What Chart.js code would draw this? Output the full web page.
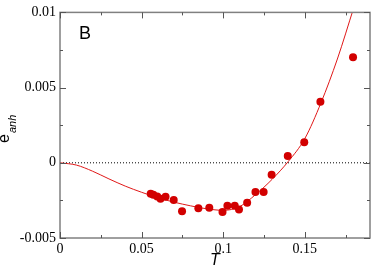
<!DOCTYPE html>
<html lang="en">
<head>
  <meta charset="UTF-8">
  <title>e_anh vs T</title>
  <script src="https://cdn.jsdelivr.net/npm/chart.js"></script>
  <style>
    body { margin:0; background:#fff; }
    .wrap { position:relative; width:374px; height:270px; }
  </style>
</head>
<body>
  <div class="wrap"><canvas id="chart" width="374" height="270"></canvas></div>
  <script>
    // simulation points
    const pointT = [0.0556, 0.0572, 0.0596, 0.0616, 0.0647, 0.0697, 0.0748, 0.0848, 0.0915, 0.0996,
                    0.1026, 0.1071, 0.1097, 0.1147, 0.1198, 0.1248, 0.1297, 0.1396, 0.1497, 0.1596, 0.1796];
    const pointE = [-0.00206, -0.00213, -0.00224, -0.00239, -0.00226, -0.00248, -0.00322, -0.00303, -0.00299, -0.00327,
                    -0.00286, -0.00286, -0.00311, -0.00265, -0.00194, -0.00194, -0.00080, 0.00045, 0.00137, 0.00406, 0.00701];
    // fitted curve
    const curveT = [0, 0.01, 0.02, 0.03, 0.04, 0.05, 0.06, 0.07, 0.08, 0.09, 0.10, 0.11, 0.12, 0.13, 0.14, 0.15, 0.16, 0.17, 0.18];
    const curveE = [0, -0.00015, -0.00056, -0.00107, -0.00155, -0.00196, -0.00232, -0.00262, -0.00286, -0.00306, -0.00316,
                    -0.00292, -0.00210, -0.00110, 0.00010, 0.00160, 0.00400, 0.00690, 0.01030];
    const zeroT = [0, 0.19];
    const zeroE = [0, 0];

    const xTicks = [0, 0.05, 0.1, 0.15];
    const xMinor = [0.025, 0.075, 0.125, 0.175];
    const yTicks = [-0.005, 0, 0.005, 0.01];
    const yMinor = [-0.0025, 0.0025, 0.0075];

    const RED = '#d20000';
    const zip = (xs, ys) => xs.map((x, i) => ({x, y: ys[i]}));

    // frame, inward ticks, panel letter and y title
    const framePlugin = {
      id: 'frame',
      afterDraw(chart) {
        const {ctx, chartArea: a, scales: {x, y}} = chart;
        ctx.save();
        ctx.strokeStyle = '#808080';
        ctx.lineWidth = 1.5;
        ctx.strokeRect(a.left, a.top, a.right - a.left, a.bottom - a.top);
        ctx.lineWidth = 1;
        ctx.strokeStyle = '#555';
        ctx.beginPath();
        const tx = (v, len) => {
          const p = Math.round(x.getPixelForValue(v)) + 0.5;
          ctx.moveTo(p, a.bottom); ctx.lineTo(p, a.bottom - len);
          ctx.moveTo(p, a.top); ctx.lineTo(p, a.top + len);
        };
        const ty = (v, len) => {
          const p = Math.round(y.getPixelForValue(v)) + 0.5;
          ctx.moveTo(a.left, p); ctx.lineTo(a.left + len, p);
          ctx.moveTo(a.right, p); ctx.lineTo(a.right - len, p);
        };
        xTicks.forEach(v => tx(v, 6));
        xMinor.forEach(v => tx(v, 3));
        yTicks.forEach(v => ty(v, 6));
        yMinor.forEach(v => ty(v, 3));
        ctx.stroke();

        ctx.fillStyle = '#000';
        ctx.font = '18px "Liberation Sans", Arial, sans-serif';
        ctx.textBaseline = 'alphabetic';
        ctx.fillText('B', 79, 39);

        // y title e_anh, rotated
        ctx.translate(9, 143);
        ctx.rotate(-Math.PI / 2);
        ctx.font = '16px "Liberation Sans", Arial, sans-serif';
        ctx.fillText('e', 0, 0);
        const w = ctx.measureText('e').width;
        ctx.font = 'italic 11px "Liberation Sans", Arial, sans-serif';
        ctx.fillText('anh', w + 1, 7);
        ctx.restore();
      }
    };

    const tickFont = {family: '"Liberation Serif", "Times New Roman", serif', size: 14};

    new Chart(document.getElementById('chart').getContext('2d'), {
      type: 'scatter',
      data: {
        datasets: [
          {
            data: zip(zeroT, zeroE), showLine: true, pointRadius: 0,
            borderColor: '#000', borderWidth: 1, borderDash: [1, 2], order: 3
          },
          {
            data: zip(curveT, curveE), showLine: true, pointRadius: 0,
            borderColor: '#e01818', borderWidth: 1, cubicInterpolationMode: 'monotone', clip: 0, order: 2
          },
          {
            data: zip(pointT, pointE), pointRadius: 4, pointHoverRadius: 4,
            backgroundColor: RED, borderWidth: 0, order: 1
          }
        ]
      },
      options: {
        responsive: false,
        animation: false,
        layout: {padding: {top: 6, right: 1, left: 0, bottom: 0}},
        plugins: {legend: {display: false}, tooltip: {enabled: false}},
        scales: {
          x: {
            type: 'linear', min: 0, max: 0.19,
            grid: {display: false, drawTicks: false},
            border: {display: false},
            afterBuildTicks: s => { s.ticks = xTicks.map(v => ({value: v})); },
            afterFit: s => { s.height = 32; },
            ticks: {font: tickFont, color: '#000', padding: 3, maxRotation: 0, callback: v => String(v)},
            title: {display: true, text: 'T', font: {family: '"Liberation Sans", Arial, sans-serif', size: 16, style: 'italic'}, color: '#000', padding: {top: 3, bottom: 0}}
          },
          y: {
            type: 'linear', min: -0.005, max: 0.01,
            grid: {display: false, drawTicks: false},
            border: {display: false},
            afterBuildTicks: s => { s.ticks = yTicks.map(v => ({value: v})); },
            afterFit: s => { s.width = 60; },
            ticks: {font: tickFont, color: '#000', padding: 4, callback: v => String(v)}
          }
        }
      },
      plugins: [framePlugin]
    });
  </script>
</body>
</html>
